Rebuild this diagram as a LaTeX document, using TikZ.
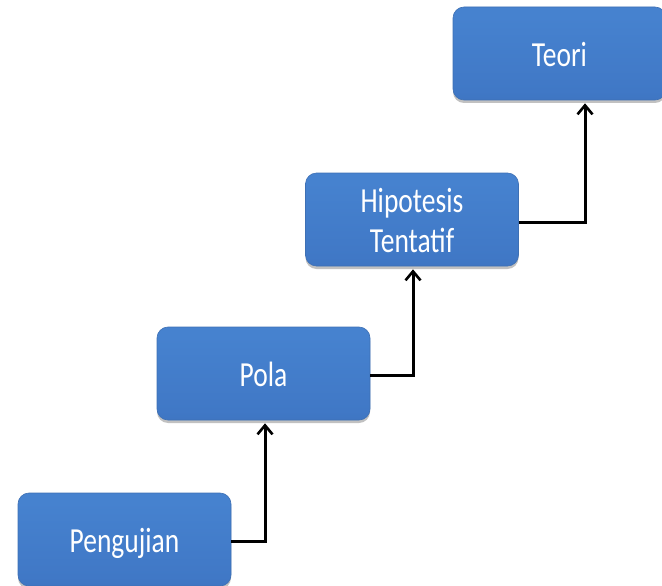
\documentclass[tikz,border=0pt]{standalone}
\usepackage{fontspec}
\setmainfont{Carlito}
\usetikzlibrary{arrows.meta,shadows}
\definecolor{boxtop}{RGB}{92,150,224}
\definecolor{boxmid}{RGB}{70,130,207}
\definecolor{boxlow}{RGB}{64,120,198}
\definecolor{boxbot}{RGB}{56,108,182}
\definecolor{boxedge}{RGB}{62,112,180}
\pgfdeclareverticalshading{boxshade}{100bp}{color(0bp)=(boxbot); color(6bp)=(boxbot); color(30bp)=(boxlow); color(70bp)=(boxmid); color(88bp)=(boxmid); color(94bp)=(boxtop); color(100bp)=(boxtop)}
\newcommand\boxlbl[1]{\raisebox{-5pt}[\height][\depth]{\scalebox{1}[1.28]{\fontsize{27.5}{31.5}\selectfont\begin{tabular}{@{}c@{}}#1\end{tabular}}}}
\tikzset{
  stepbox/.style={rectangle, rounded corners=11pt, minimum width=213pt, minimum height=93pt,
    shading=boxshade, draw=boxedge, line width=0.6pt,
    text=white, inner sep=0pt,
    drop shadow={opacity=0.35, shadow xshift=0pt, shadow yshift=-3pt, fill=black!70}},
  link/.style={draw=black, line width=3pt, -{Straight Barb[length=9pt,width=15pt,line width=2.6pt]}}
}
\begin{document}
\begin{tikzpicture}[x=1pt,y=-1pt]
\useasboundingbox (0,0) rectangle (662,586);
\clip (0,0) rectangle (662,586);
\node[stepbox] (teori) at (559.5,53.5) {\boxlbl{Teori}};
\node[stepbox] (hipo) at (412,219.5) {\boxlbl{Hipotesis\\Tentatif}};
\node[stepbox] (pola) at (263.5,373.5) {\boxlbl{Pola}};
\node[stepbox] (uji) at (124.5,539.5) {\boxlbl{Pengujian}};
\draw[link] ([yshift=-1.5pt]uji.east) -| ([yshift=-3pt,xshift=1.5pt]pola.south);
\draw[link] ([yshift=-1.5pt]pola.east) -| ([yshift=-3pt,xshift=1pt]hipo.south);
\draw[link] ([yshift=-2.5pt]hipo.east) -| ([yshift=-3pt,xshift=25.5pt]teori.south);
\end{tikzpicture}
\end{document}
